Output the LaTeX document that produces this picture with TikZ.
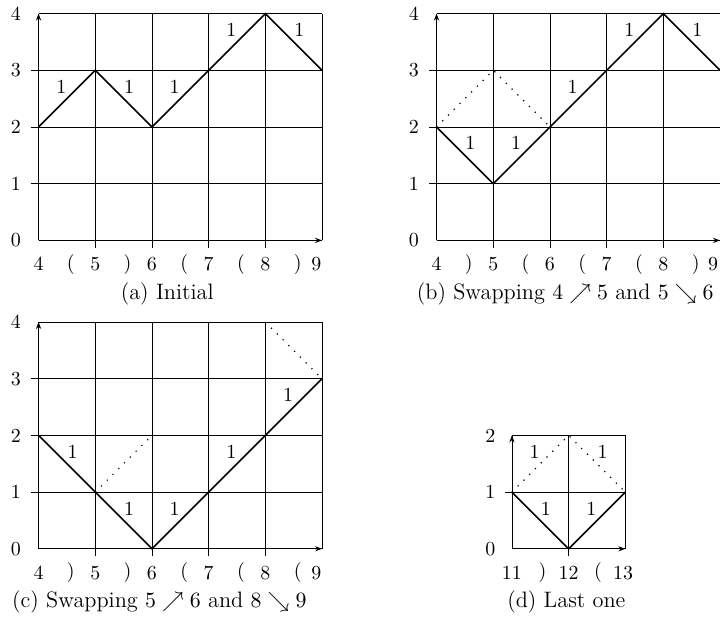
\documentclass[tikz,border=0pt]{standalone}
\usepackage{amsmath, amssymb}
\usetikzlibrary{arrows.meta}

\begin{document}
\begin{tikzpicture}[scale=1, >={Stealth[length=3.5pt,width=2.6pt]},
    route/.style={thick},
    oldroute/.style={line width=0.6pt, dash pattern=on 0.6pt off 3.5pt},
    upstep/.style={midway, above, xshift=-2.8pt, yshift=-1pt},
    downstep/.style={midway, above, xshift=2.8pt, yshift=-1pt},
    caption/.style={font=\fontsize{11.2}{13}\selectfont}]
    \useasboundingbox (3.32,-6.69) rectangle (16.02,4.24);

    % (a) initial path
    \draw (4,0) grid (9,4);
    \draw[->] (4,0) -- (9,0);
    \draw[->] (4,0) -- (4,4);
    \foreach \x in {5,...,8} \draw (\x,0) -- (\x,-0.13);
    \foreach \y in {1,...,3} \draw (4,\y) -- (3.87,\y);
    \foreach \y in {0,...,4} \node (ya\y) at (3.6,\y) {\y};
    \foreach \x in {4,...,8} \node (xa\x) at (\x,-0.42) {\x};
    \node (xa9) at (8.9,-0.42) {9};
    \foreach \x in {4,6,7} \node at (\x.57,-0.42) {(};
    \foreach \x in {5,8} \node at (\x.57,-0.42) {)};
    \draw[route] (4,2) -- node[upstep] (a1) {1} (5,3) -- node[downstep] (a2) {1} (6,2)
        -- node[upstep] (a3) {1} (7,3) -- node[upstep] (a4) {1} (8,4) -- node[downstep] (a5) {1} (9,3);
    \node[caption] (capa) at (6.27,-0.95) {(a) Initial};

    % (b) first swap
    \begin{scope}[xshift=7.02cm]
    \draw (4,0) grid (9,4);
    \draw[->] (4,0) -- (9,0);
    \draw[->] (4,0) -- (4,4);
    \foreach \x in {5,...,8} \draw (\x,0) -- (\x,-0.13);
    \foreach \y in {1,...,3} \draw (4,\y) -- (3.87,\y);
    \foreach \y in {0,...,4} \node (yb\y) at (3.6,\y) {\y};
    \foreach \x in {4,...,8} \node (xb\x) at (\x,-0.42) {\x};
    \node (xb9) at (8.88,-0.42) {9};
    \foreach \x in {5,6,7} \node at (\x.57,-0.42) {(};
    \foreach \x in {4,8} \node at (\x.57,-0.42) {)};
    \draw[oldroute] (4,2) -- (5,3) -- (6,2);
    \draw[route] (4,2) -- node[downstep] (b1) {1} (5,1) -- node[upstep] (b2) {1} (6,2)
        -- node[upstep] (b3) {1} (7,3) -- node[upstep] (b4) {1} (8,4) -- node[downstep] (b5) {1} (9,3);
    \node[caption] (capb) at (6.27,-0.95) {(b) Swapping $4 \nearrow 5$ and $5 \searrow 6$};
    \end{scope}

    % (c) second swap
    \begin{scope}[yshift=-5.44cm]
    \draw (4,0) grid (9,4);
    \draw[->] (4,0) -- (9,0);
    \draw[->] (4,0) -- (4,4);
    \foreach \x in {5,...,8} \draw (\x,0) -- (\x,-0.13);
    \foreach \y in {1,...,3} \draw (4,\y) -- (3.87,\y);
    \foreach \y in {0,...,4} \node (yc\y) at (3.6,\y) {\y};
    \foreach \x in {4,...,8} \node (xc\x) at (\x,-0.42) {\x};
    \node (xc9) at (8.9,-0.42) {9};
    \foreach \x in {6,7,8} \node at (\x.57,-0.42) {(};
    \foreach \x in {4,5} \node at (\x.57,-0.42) {)};
    \draw[oldroute] (5,1) -- (6,2);
    \draw[oldroute] (8,4) -- (9,3);
    \draw[route] (4,2) -- node[downstep] (c1) {1} (5,1) -- node[downstep] (c2) {1} (6,0)
        -- node[upstep] (c3) {1} (7,1) -- node[upstep] (c4) {1} (8,2) -- node[upstep] (c5) {1} (9,3);
    \node[caption] (capc) at (6.13,-0.93) {(c) Swapping $5 \nearrow 6$ and $8 \searrow 9$};
    \end{scope}

    % (d) last one
    \begin{scope}[shift={(1.35,-5.44)}]
    \draw (11,0) grid (13,2);
    \draw[->] (11,0) -- (13,0);
    \draw[->] (11,0) -- (11,2);
    \draw (12,0) -- (12,-0.13);
    \draw (11,1) -- (10.87,1);
    \foreach \y in {0,1,2} \node (yd\y) at (10.62,\y) {\y};
    \node (xd11) at (11,-0.42) {11};
    \node (xd12) at (12,-0.42) {12};
    \node (xd13) at (12.96,-0.42) {13};
    \node at (11.54,-0.42) {)};
    \node at (12.52,-0.42) {(};
    \draw[oldroute] (11,1) -- node[upstep] (d1) {1} (12,2) -- node[downstep] (d2) {1} (13,1);
    \draw[route] (11,1) -- node[downstep] (d3) {1} (12,0) -- node[upstep] (d4) {1} (13,1);
    \node[caption] (capd) at (11.96,-0.93) {(d) Last one};
    \end{scope}
\end{tikzpicture}
\end{document}
